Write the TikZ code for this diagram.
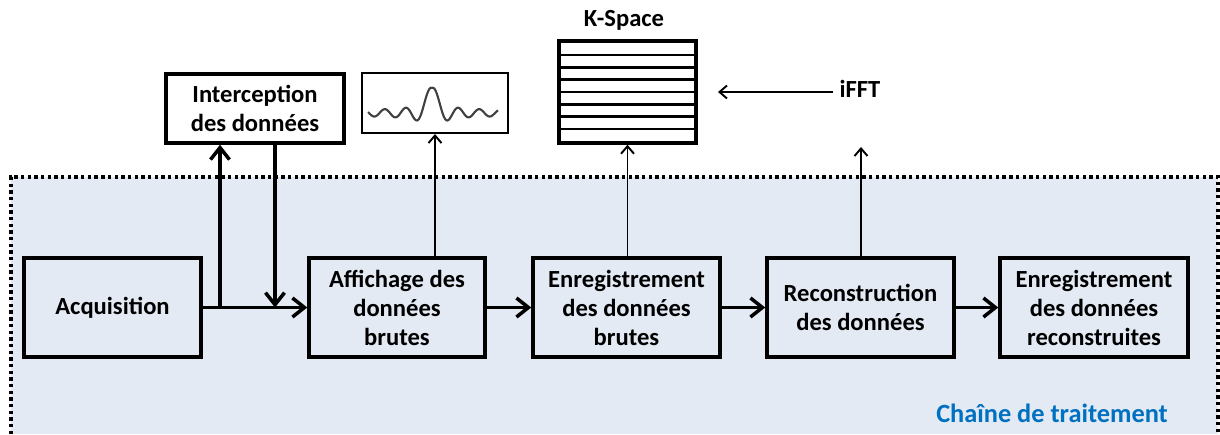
\documentclass[tikz,border=0pt]{standalone}
\usepackage{fontspec}
\setmainfont{Carlito}
\usepackage{tikz}
\usetikzlibrary{arrows.meta,positioning,calc}
\definecolor{chainfill}{HTML}{E3EAF4}
\definecolor{chainblue}{HTML}{0070C0}
\tikzset{
  stagebox/.style={draw=black,line width=2pt,align=center,inner sep=2pt,
    minimum height=1.98cm,font=\fontsize{14}{16.5}\selectfont\bfseries},
  sidebox/.style={draw=black,fill=white,line width=2pt,inner sep=0pt},
  mainarrow/.style={-{Straight Barb[length=2.4mm,width=3.8mm]},line width=2pt},
  thinarrow/.style={-{Straight Barb[length=1.5mm,width=2.6mm]},line width=1.1pt},
  kline/.style={line width=1.4pt},
  toplabel/.style={font=\fontsize{14}{16.5}\selectfont\bfseries,align=center},
  chainlabel/.style={font=\fontsize{15}{18}\selectfont\bfseries,text=chainblue}
}
\begin{document}
\begin{tikzpicture}[x=0.02cm,y=-0.02cm]
  \useasboundingbox (0,0) rectangle (1220,434);
  % zone de la chaine
  \fill[chainfill] (11,177) rectangle (1218,434);
  \draw[line width=1.9pt,dash pattern=on 1.9pt off 1.9pt]
    (11,434) -- (11,177) -- (1218,177) -- (1218,434);
  \node[chainlabel,anchor=base east] (chain) at (1174,422) {Chaîne de traitement};
  % etapes
  \node[stagebox,minimum width=3.54cm] (acq) at (112.5,307.5) {Acquisition};
  \node[stagebox,minimum width=3.52cm] (aff) at (397,307.5) {Affichage des\\données\\brutes};
  \node[stagebox,minimum width=3.74cm] (enr) at (626.5,307.5) {Enregistrement\\des données\\brutes};
  \node[stagebox,minimum width=3.74cm] (rec) at (860.5,307.5) {Reconstruction\\des données};
  \node[stagebox,minimum width=3.76cm] (enrr) at (1094,307.5) {Enregistrement\\des données\\reconstruites};
  % au-dessus de la chaine
  \node[stagebox,fill=white,minimum width=3.56cm,minimum height=1.38cm] (inter) at (255,108.5)
    {Interception\\des données};
  \node[sidebox,line width=1.2pt,minimum width=2.92cm,minimum height=1.2cm] (sig) at (435,103) {};
  \draw[line width=1.2pt,black!75] plot[domain=-64:66,samples=160]
    ({432+\x},{113-25*(1+abs(\x)/40)*sin(180*\x/10.5)/(pi*\x/10.5)});
  \node[sidebox,minimum width=2.74cm,minimum height=2.04cm] (kspace) at (627.5,92) {};
  \foreach \k in {0,...,6}
    \draw[kline] (559,{55+12.33*\k}) -- (696,{55+12.33*\k});
  \node[toplabel] (klabel) at (624,20) {K-Space};
  \node[toplabel] (ifft) at (860,88.5) {iFFT};
  \coordinate (kin) at (718,92);
  \coordinate (ifftup) at (861,147);
  \coordinate (split) at (220,307.5);
  \coordinate (merge) at (275,307.5);
  % connexions
  \draw[mainarrow] (acq.east) -- (aff.west);
  \draw[mainarrow] (split) -- (split |- inter.south);
  \draw[mainarrow] (merge |- inter.south) -- (merge);
  \draw[mainarrow] (aff.east) -- (enr.west);
  \draw[mainarrow] (enr.east) -- (rec.west);
  \draw[mainarrow] (rec.east) -- (enrr.west);
  \draw[thinarrow] (sig.south |- aff.north) -- (sig.south);
  \draw[thinarrow] (kspace.south |- enr.north) -- (kspace.south);
  \draw[thinarrow] (rec.north -| ifftup) -- (ifftup);
  \draw[thinarrow] (ifft.west |- kin) -- (kin);
\end{tikzpicture}
\end{document}
